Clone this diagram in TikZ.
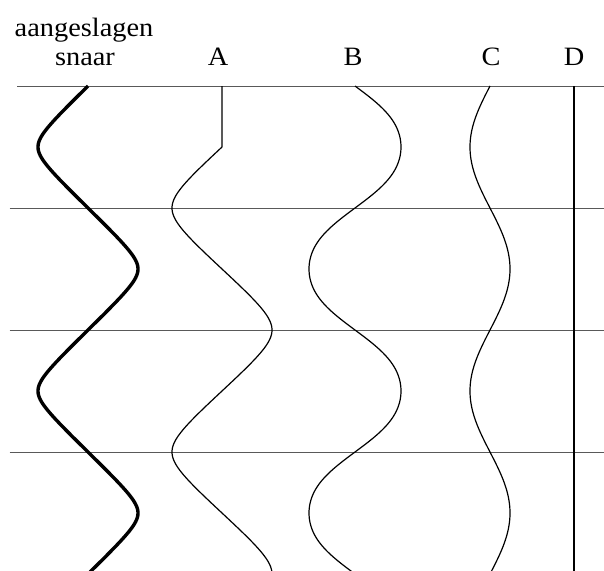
\documentclass[tikz,border=0pt]{standalone}
\usepackage{fontspec}
\setmainfont{Liberation Serif}
\begin{document}
\begin{tikzpicture}[x=1pt,y=-1pt,
  hline/.style={line width=1pt, draw=black!65},
  wave/.style={line width=1.2pt, line join=round},
  thickwave/.style={line width=3.4pt},
  vline/.style={line width=1.4pt},
  lbl/.style={font=\fontsize{26.5}{28}\selectfont, anchor=base, inner sep=0pt, xscale=1.07},
  declare function={stri(\a,\k)=asin(\k*sin(\a))/asin(\k);
                    flat(\a)=(sin(\a)+sin(3*\a)/30)/(1-1/30);}]
\useasboundingbox (0,0) rectangle (604,570);
\fill[white] (0,0) rectangle (604,570);
\clip (0,0) rectangle (604,570);
% horizontal lines
\draw[hline] (17,86) -- (604,86);
\draw[hline] (9.6,208) -- (604,208);
\draw[hline] (9.6,330) -- (604,330);
\draw[hline] (9.6,452) -- (604,452);
% labels
\node[lbl] (aang) at (84,36) {aangeslagen};
\node[lbl] (snaar) at (85,65) {snaar};
\node[lbl] (la) at (218,65) {A};
\node[lbl] (lb) at (353,65) {B};
\node[lbl] (lc) at (491,65) {C};
\node[lbl] (ld) at (574,65) {D};
% snaar
\draw[thickwave] plot[domain=86:572, samples=300, variable=\t] ({88-50*stri(1.47541*(\t-86),0.92)}, \t);
% A
\draw[wave] (222,86) -- (222,147)
  -- plot[domain=147:572, samples=260, variable=\t] ({222-50*stri(1.47541*(\t-147),0.86)}, \t);
% B
\draw[wave] plot[domain=86:572, samples=300, variable=\t] ({355+46*flat(1.47541*(\t-86))}, \t);
% C
\draw[wave] plot[domain=86:572, samples=300, variable=\t] ({490-20*sin(1.47541*(\t-86))}, \t);
% D
\draw[vline] (574,86) -- (574,572);
\end{tikzpicture}
\end{document}
